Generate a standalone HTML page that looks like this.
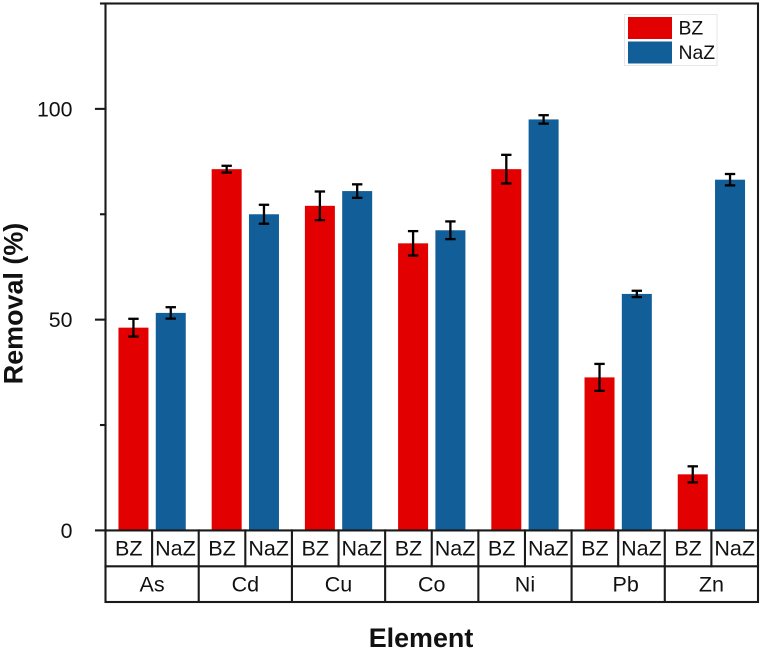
<!DOCTYPE html>
<html lang="en">
<head>
<meta charset="utf-8">
<title>Removal by element</title>
<style>
html,body{margin:0;padding:0;background:#fff;width:762px;height:651px;overflow:hidden}
svg{display:block;filter:blur(0.35px)}
text{font-family:"Liberation Sans",sans-serif;fill:#111}
</style>
</head>
<body>
<svg id="chart" xmlns="http://www.w3.org/2000/svg" width="762" height="651" viewBox="0 0 762 651"></svg>
<script>
const categories = ['As', 'Cd', 'Cu', 'Co', 'Ni', 'Pb', 'Zn'];
const seriesNames = ['BZ', 'NaZ'];
const bzValues = [48.1, 85.7, 77, 68.1, 85.7, 36.3, 13.3];
const nazValues = [51.6, 75, 80.5, 71.2, 97.5, 56.1, 83.2];
const bzErrors = [2.1, 0.8, 3.4, 2.9, 3.4, 3.2, 1.9];
const nazErrors = [1.35, 2.25, 1.6, 2.1, 1, 0.75, 1.35];
const majorTicks = [0, 50, 100];
const minorTicks = [25, 75, 125];

const NS = 'http://www.w3.org/2000/svg';
const svg = document.getElementById('chart');
const plot = { left: 105.5, right: 758, top: 3.5, bottom: 530.4, yMax: 125 };
const seriesColors = ['#e30000', '#115e99'];
const barWidth = 30;
const barOffset = 18.65;
const ink = '#1a1a1a';
const lineW = 2.1;
const errW = 2.3;

function yScale(v) { return plot.bottom - (v / plot.yMax) * (plot.bottom - plot.top); }
function groupWidth() { return (plot.right - plot.left) / categories.length; }
function xGroup(i) { return plot.left + i * groupWidth(); }
function xBar(i, s) { return xGroup(i) + groupWidth() / 2 + (s === 0 ? -barOffset : barOffset); }
function xCell(i, s) { return xGroup(i) + groupWidth() * (s === 0 ? 0.25 : 0.75); }

function make(tag, attrs, text) {
  const el = document.createElementNS(NS, tag);
  for (const k in attrs) el.setAttribute(k, attrs[k]);
  if (text !== undefined) el.textContent = text;
  svg.appendChild(el);
  return el;
}
function line(x1, y1, x2, y2, w) {
  return make('line', { x1: x1, y1: y1, x2: x2, y2: y2, stroke: ink, 'stroke-width': w || lineW, 'stroke-linecap': 'square' });
}

const seriesValues = [bzValues, nazValues];
const seriesErrors = [bzErrors, nazErrors];

categories.forEach(function (cat, i) {
  seriesNames.forEach(function (name, s) {
    const v = seriesValues[s][i];
    const e = seriesErrors[s][i];
    const cx = xBar(i, s);
    const bar = make('rect', { x: cx - barWidth / 2, y: yScale(v), width: barWidth, height: plot.bottom - yScale(v), fill: seriesColors[s] });
    
    
    const stem = make('line', { x1: cx, x2: cx, y1: yScale(v + e), y2: yScale(v - e), stroke: '#000', 'stroke-width': errW });
    
    
    const capTop = make('line', { x1: cx - 5.2, x2: cx + 5.2, y1: yScale(v + e), y2: yScale(v + e), stroke: '#000', 'stroke-width': errW });
    
    
    const capBottom = make('line', { x1: cx - 5.2, x2: cx + 5.2, y1: yScale(v - e), y2: yScale(v - e), stroke: '#000', 'stroke-width': errW });
    
    
  });
});

// plot frame
const frame = make('rect', { x: plot.left, y: plot.top, width: plot.right - plot.left, height: 602 - plot.top, fill: 'none', stroke: ink, 'stroke-width': lineW });



// y ticks
majorTicks.forEach(function (t) {
  const tick = line(96, yScale(t), plot.left, yScale(t));
  
  
  const label = make('text', { x: 72.5, y: yScale(t) + 7.5, 'text-anchor': 'end', 'font-size': 21.3 }, String(t));
  
  
});
minorTicks.forEach(function (t) {
  const tick = line(101, yScale(t), plot.left, yScale(t));
  
  
});

// x table rows
const baseRule = line(plot.left, plot.bottom, plot.right, plot.bottom);


const rowRule = line(plot.left, 566.3, plot.right, 566.3);



categories.forEach(function (cat, i) {
  if (i > 0) {
    const sep = line(xGroup(i), plot.bottom, xGroup(i), 602);
    
    
  }
  const mid = line(xGroup(i) + groupWidth() / 2, plot.bottom, xGroup(i) + groupWidth() / 2, 566.3);
  
  
  seriesNames.forEach(function (name, s) {
    const sub = make('text', { x: xCell(i, s), y: 555.7, 'text-anchor': 'middle', 'font-size': 21.5 }, name);
    
    
  });
  const nudge = cat === 'Pb' ? 7.5 : 0;
  const catLabel = make('text', { x: xGroup(i) + groupWidth() / 2 + nudge, y: 591.7, 'text-anchor': 'middle', 'font-size': 21.5 }, cat);
  
  
});

// axis titles
const xTitle = make('text', { x: 421, y: 647, 'text-anchor': 'middle', 'font-size': 26.9, 'font-weight': 'bold' }, 'Element');


const yTitle = make('text', { x: 0, y: 0, 'text-anchor': 'middle', 'font-size': 26.9, 'font-weight': 'bold', transform: 'translate(22.5,303.5) rotate(-90)' }, 'Removal (%)');



// legend
const legendBox = make('rect', { x: 624.5, y: 14.5, width: 92.5, height: 51, fill: '#fff', stroke: '#e6e6e6', 'stroke-width': 1 });


seriesNames.forEach(function (name, s) {
  const swatch = make('rect', { x: 628, y: 17 + s * 24.5, width: 44, height: 22, fill: seriesColors[s] });
  
  
  const entry = make('text', { x: 678.5, y: 34.3 + s * 24.7, 'font-size': 19.4 }, name);
  
  
});
</script>
</body>
</html>
